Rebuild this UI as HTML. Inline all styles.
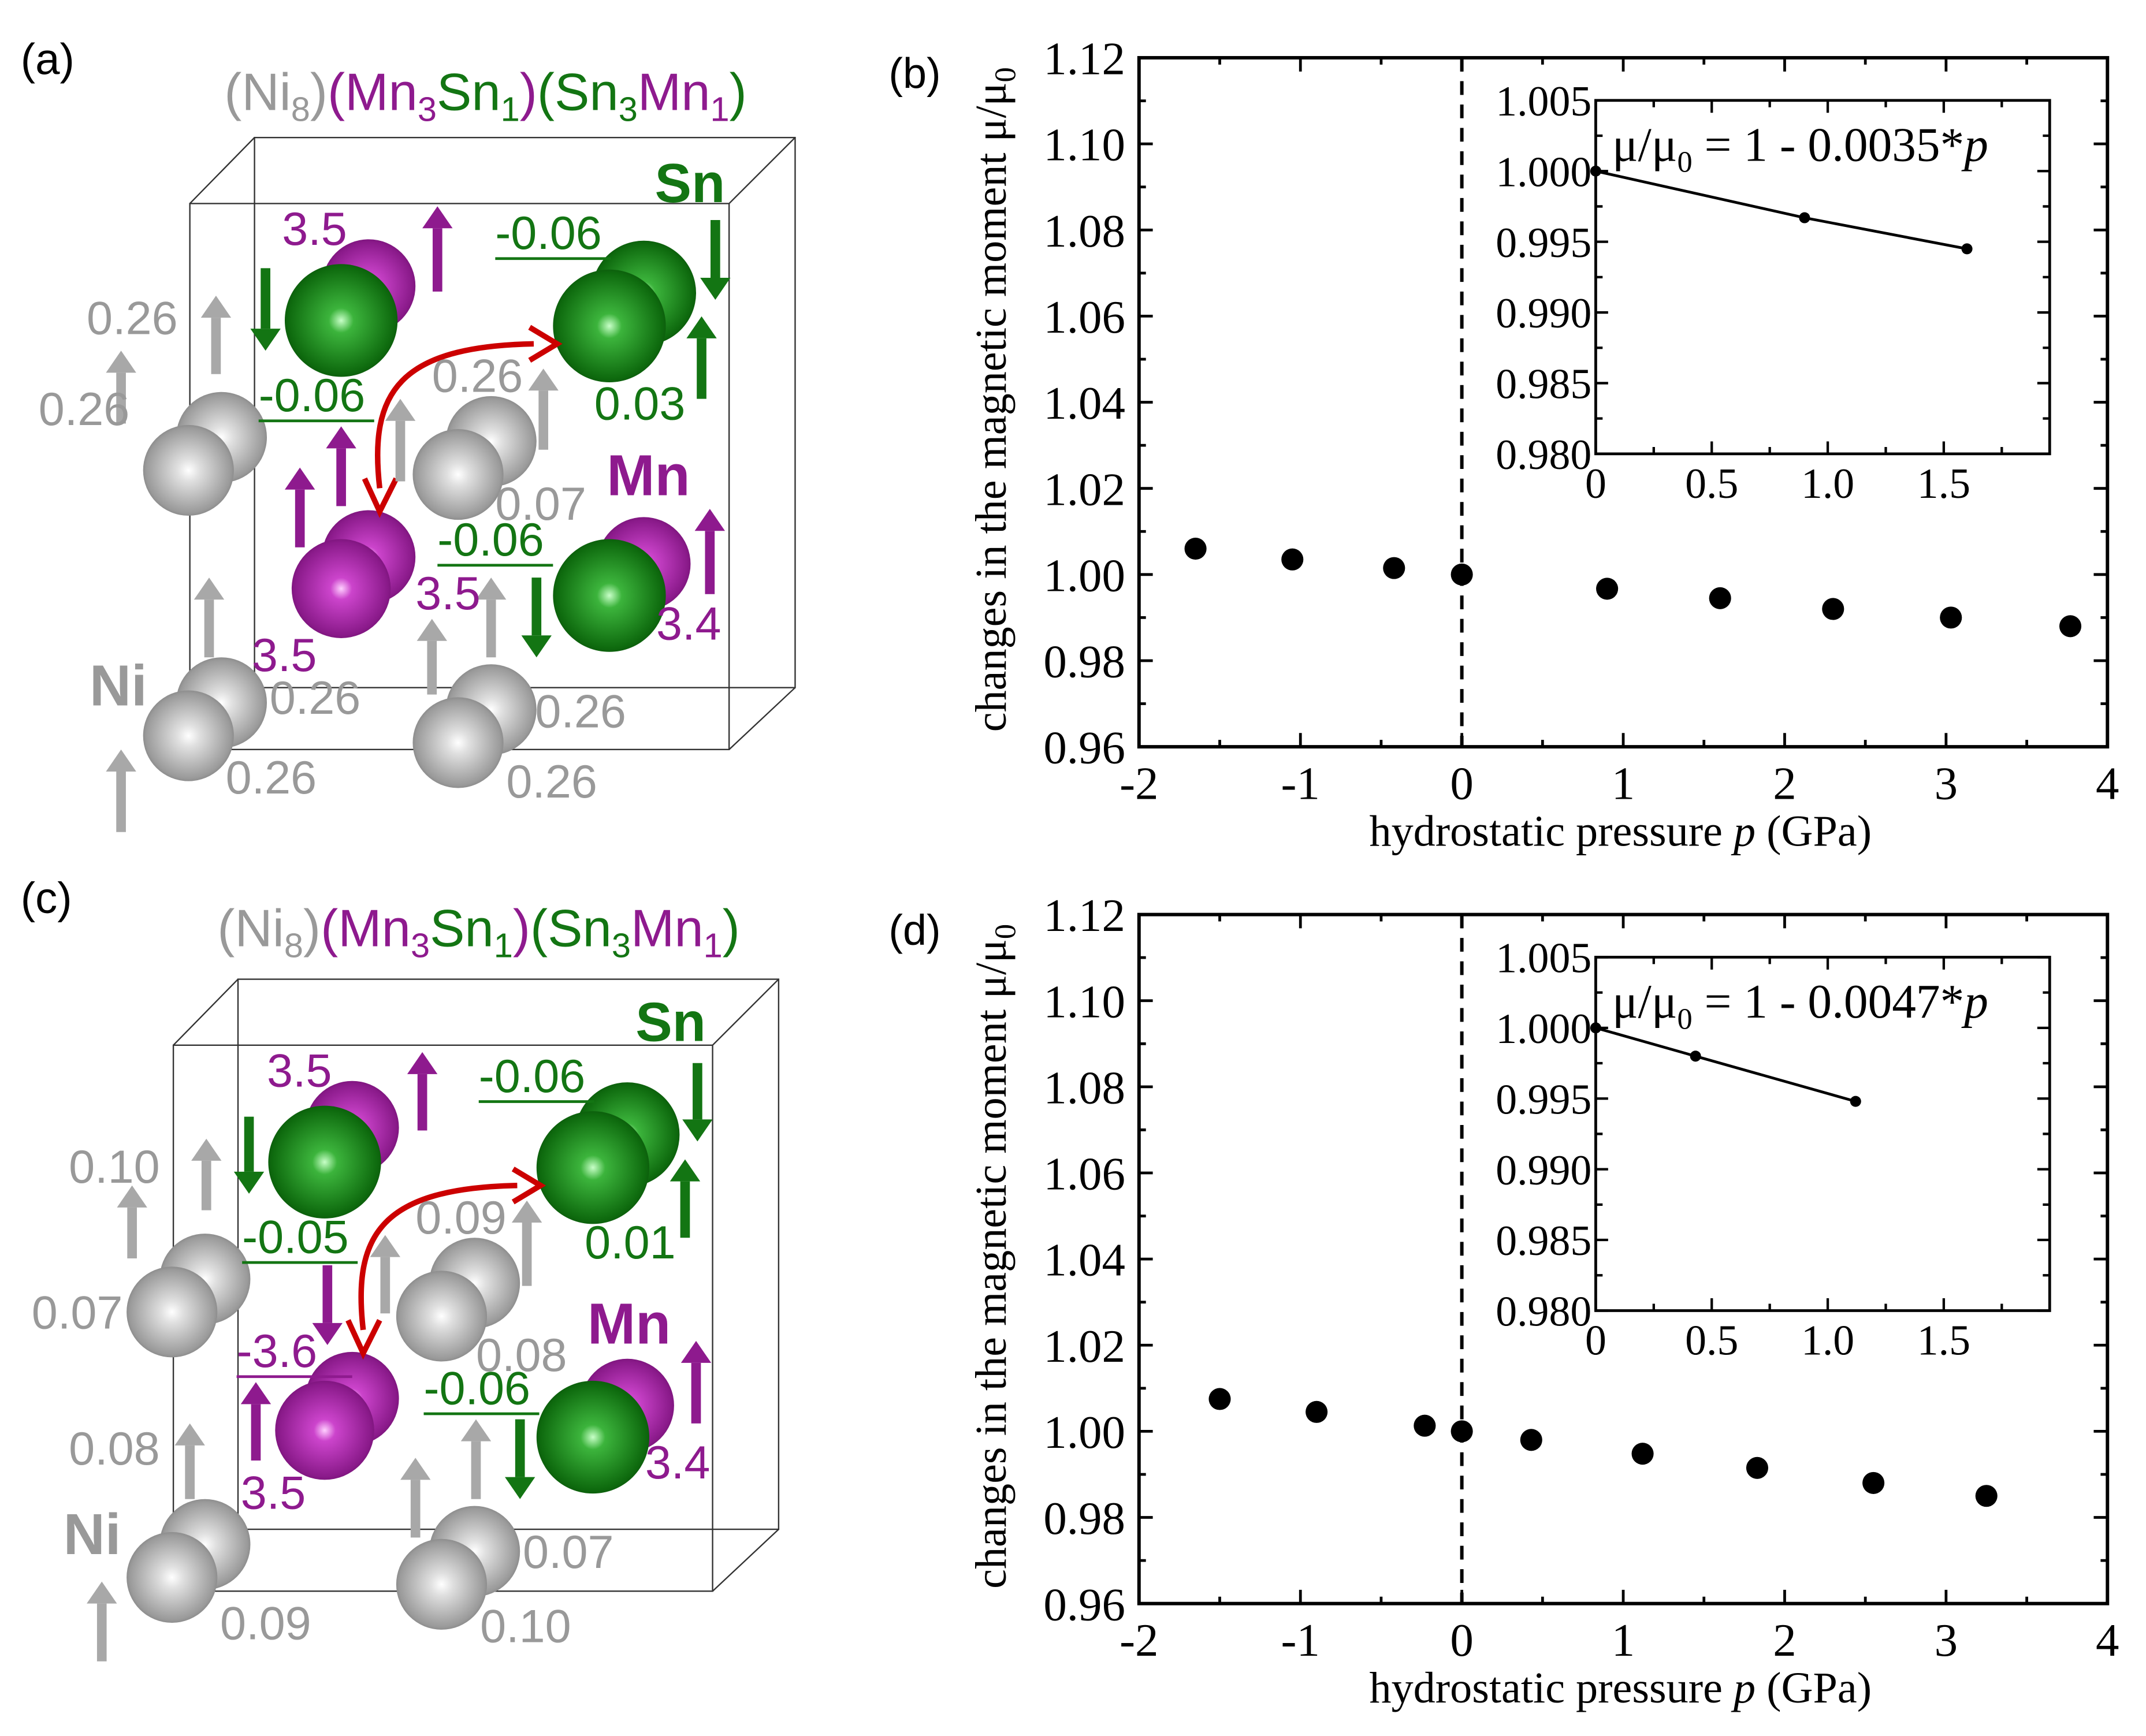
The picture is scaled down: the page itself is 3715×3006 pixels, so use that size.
<!DOCTYPE html>
<html><head><meta charset="utf-8"><style>html,body{margin:0;padding:0;background:#fff}svg{display:block}</style></head>
<body>
<svg id="root" xmlns="http://www.w3.org/2000/svg" width="3715" height="3006" viewBox="0 0 1560 1262.3">
<defs>
<radialGradient id="gNi" cx="0.5" cy="0.5" r="0.55"><stop offset="0" stop-color="#ffffff"/><stop offset="0.22" stop-color="#e0e0e0"/><stop offset="0.85" stop-color="#9a9a9a"/><stop offset="1" stop-color="#7a7a7a"/></radialGradient>
<radialGradient id="gSn" cx="0.5" cy="0.5" r="0.55"><stop offset="0" stop-color="#c8ffc8"/><stop offset="0.2" stop-color="#3cb43c"/><stop offset="0.85" stop-color="#0e6a0e"/><stop offset="1" stop-color="#0a500a"/></radialGradient>
<radialGradient id="gMn" cx="0.5" cy="0.5" r="0.55"><stop offset="0" stop-color="#ffd0ff"/><stop offset="0.2" stop-color="#cc44cc"/><stop offset="0.85" stop-color="#8a1a8a"/><stop offset="1" stop-color="#701070"/></radialGradient>
</defs>
</svg>
<script>
// ---------- chart data ----------
const pressB = [-1.65, -1.05, -0.42, 0, 0.9, 1.6, 2.3, 3.03, 3.77];
const momB = [1.006, 1.0035, 1.0015, 1.0, 0.9967, 0.9945, 0.992, 0.990, 0.988];
const insetPB = [0, 0.9, 1.6];
const insetMB = [1.0, 0.9967, 0.9945];
const pressD = [-1.5, -0.9, -0.23, 0, 0.43, 1.12, 1.83, 2.55, 3.25];
const momD = [1.0075, 1.0045, 1.0013, 1.0, 0.998, 0.9948, 0.9915, 0.988, 0.985];
const insetPD = [0, 0.43, 1.12];
const insetMD = [1.0, 0.998, 0.9948];
const xTicks = [-2, -1, 0, 1, 2, 3, 4];
const yTicks = [0.96, 0.98, 1.00, 1.02, 1.04, 1.06, 1.08, 1.10, 1.12];
const yTickLabels = ["0.96","0.98","1.00","1.02","1.04","1.06","1.08","1.10","1.12"];
const inXTicks = [0, 0.5, 1.0, 1.5];
const inXTickLabels = ["0","0.5","1.0","1.5"];
const inYTicks = [0.980, 0.985, 0.990, 0.995, 1.000, 1.005];
const inYTickLabels = ["0.980","0.985","0.990","0.995","1.000","1.005"];

const NS = "http://www.w3.org/2000/svg";
const root = document.getElementById('root');
function mk(tag, attrs, parent){const e=document.createElementNS(NS,tag);for(const k in attrs)e.setAttribute(k,attrs[k]);(parent||root).appendChild(e);return e;}
function txt(s, x, y, size, fill, parent, extra){const t=mk('text',Object.assign({x:x,y:y,'font-size':size,fill:fill,'font-family':'"Liberation Sans", sans-serif'},extra||{}),parent);t.textContent=s;return t;}

// ---------- plots ----------
function plot(top, P, M, IP, IM, formulaNum, tag){
  const g = mk('g',{});
  
  
  const L=828,R=1532,T=top,B=top+501;
  const xs = v => L + (v+2)/6*(R-L);
  const ys = v => B - (v-0.96)/0.16*(B-T);
  const serif = '"Liberation Serif", serif';
  for(let v=-2; v<=4.001; v+=0.5){
    const len = Math.abs(v-Math.round(v))<1e-6 ? 10 : 5;
    const tk = mk('path',{d:`M${xs(v)} ${B}v${-len}M${xs(v)} ${T}v${len}`,stroke:'#000','stroke-width':2},g);
    
    
  }
  for(let i=0;i<=16;i++){
    const v=0.96+i*0.01; const len = i%2===0?10:5;
    const tk = mk('path',{d:`M${L} ${ys(v)}h${len}M${R} ${ys(v)}h${-len}`,stroke:'#000','stroke-width':2},g);
    
    
  }
  const frame = mk('rect',{x:L,y:T,width:R-L,height:B-T,fill:'none',stroke:'#000','stroke-width':2.5},g);
  
  
  xTicks.forEach(v=>{
    const t = txt(String(v), xs(v), B+38, 34, '#000', g, {'text-anchor':'middle','font-family':serif});
    
    
  });
  yTicks.forEach((v,i)=>{
    const t = txt(yTickLabels[i], L-10, ys(v)+12, 34, '#000', g, {'text-anchor':'end','font-family':serif});
    
    
  });
  const xt = txt('', (L+R)/2-2, B+72, 32, '#000', g, {'text-anchor':'middle','font-family':serif});
  xt.innerHTML = 'hydrostatic pressure <tspan font-style="italic">p</tspan> (GPa)';
  
  
  const yt = txt('', 0, 0, 32, '#000', g, {'text-anchor':'middle','font-family':serif,transform:`translate(731 ${(T+B)/2-2}) rotate(-90)`});
  yt.innerHTML = 'changes in the magnetic moment μ/μ<tspan font-size="22" dy="7">0</tspan>';
  
  
  const zl = mk('line',{x1:xs(0),x2:xs(0),y1:T,y2:B,stroke:'#000','stroke-width':2.5,'stroke-dasharray':'10 7'},g);
  
  
  P.forEach((p,i)=>{
    const c = mk('circle',{cx:xs(p),cy:ys(M[i]),r:8,fill:'#000'},g);
    
    
  });
  // inset
  const iL=1160,iR=1490,iT=top+31,iB=top+288;
  const ixs = v => iL + v/1.5*253;
  const iys = v => iB - (v-0.98)/0.025*(iB-iT);
  const ig = mk('g',{},g);
  
  
  for(let v=0; v<=1.9; v+=0.25){
    const len = Math.abs(v*2-Math.round(v*2))<1e-6 ? 9 : 5;
    const tk = mk('path',{d:`M${ixs(v)} ${iB}v${-len}M${ixs(v)} ${iT}v${len}`,stroke:'#000','stroke-width':1.8},ig);
    
    
  }
  for(let i=0;i<=10;i++){
    const v=0.98+i*0.0025; const len=i%2===0?9:5;
    const tk = mk('path',{d:`M${iL} ${iys(v)}h${len}M${iR} ${iys(v)}h${-len}`,stroke:'#000','stroke-width':1.8},ig);
    
    
  }
  const ifr = mk('rect',{x:iL,y:iT,width:iR-iL,height:iB-iT,fill:'none',stroke:'#000','stroke-width':2},ig);
  
  
  inXTicks.forEach((v,i)=>{
    const t = txt(inXTickLabels[i], ixs(v), iB+32, 31, '#000', ig, {'text-anchor':'middle','font-family':serif});
    
    
  });
  inYTicks.forEach((v,i)=>{
    const t = txt(inYTickLabels[i], iL-3, iys(v)+11, 31, '#000', ig, {'text-anchor':'end','font-family':serif});
    
    
  });
  const ln = mk('polyline',{points:IP.map((p,i)=>ixs(p)+','+iys(IM[i])).join(' '),fill:'none',stroke:'#000','stroke-width':2},ig);
  
  
  IP.forEach((p,i)=>{
    const c = mk('circle',{cx:ixs(p),cy:iys(IM[i]),r:4,fill:'#000'},ig);
    
    
  });
  const f = txt('', 1172, iT+44, 35, '#000', ig, {'font-family':serif});
  f.innerHTML = 'μ/μ<tspan font-size="22" dy="8">0</tspan><tspan dy="-8"> = 1 - '+formulaNum+'*</tspan><tspan font-style="italic">p</tspan>';
  
  
  const lab = txt('('+tag+')', 646, top+22, 31, '#000', g);
  
  
}
plot(42, pressB, momB, insetPB, insetMB, '0.0035', 'b');
plot(665, pressD, momD, insetPD, insetMD, '0.0047', 'd');

// ---------- structure panels ----------
const GRAY='#a8a8a8', GREEN='#137513', MAG='#8e1a8e', GRAYT='#999999';
function arrow(x,y1,y2,col,parent){
  const dir = y2<y1?-1:1; const hl=16;
  const g = mk('g',{},parent);
  
  
  mk('line',{x1:x,x2:x,y1:y1,y2:y2-dir*hl,stroke:col,'stroke-width':7},g);
  mk('polygon',{points:`${x-11},${y2-dir*hl} ${x+11},${y2-dir*hl} ${x},${y2}`,fill:col},g);
}
function sphere(cx,cy,r,grad,parent){
  const c = mk('circle',{cx:cx,cy:cy,r:r,fill:`url(#${grad})`},parent);
  
  
}
function structure(dx,dy,tag){
  const g = mk('g',{transform:`translate(${dx} ${dy})`});
  
  
  const box = mk('path',{d:'M138 148H530V545H138ZM185 100H578V500H185ZM138 148L185 100M530 148L578 100M530 545L578 500M138 545L185 500',fill:'none',stroke:'#333','stroke-width':1},g);
  
  
  [[137,342],[333,345],[137,535],[333,540]].forEach(([x,y])=>{sphere(x+24,y-24,33,'gNi',g);sphere(x,y,33,'gNi',g);});
  sphere(268,208,34,'gMn',g); sphere(248,233,41,'gSn',g);
  sphere(468,213,38,'gSn',g); sphere(443,237,41,'gSn',g);
  sphere(268,405,34,'gMn',g); sphere(248,428,36,'gMn',g);
  sphere(468,410,34,'gMn',g); sphere(443,433,41,'gSn',g);
  const ra = mk('g',{},g);
  
  
  mk('path',{d:'M276 355C268 285 290 252 388 250',fill:'none',stroke:'#cc0000','stroke-width':4},ra);
  mk('path',{d:'M265 348L276 372L288 348M385 238L405 250L385 262',fill:'none',stroke:'#cc0000','stroke-width':4},ra);
  return g;
}
function label(s,x,y,col,size,bold,under,name){
  const t = txt(s,x,y,size||34,col,root,bold?{'font-weight':'bold'}:{});
  
  
  if(under){ const u=mk('line',{x1:x,x2:x+84,y1:y+7,y2:y+7,stroke:col,'stroke-width':2});   }
}
function title(y,x){
  const t = txt('',x,y,38,GRAYT);
  t.innerHTML = '(Ni<tspan font-size="25" dy="8">8</tspan><tspan dy="-8">)</tspan><tspan fill="'+MAG+'">(Mn<tspan font-size="25" dy="8">3</tspan><tspan dy="-8" fill="'+GREEN+'">Sn<tspan font-size="25" dy="8">1</tspan></tspan><tspan dy="-8">)</tspan></tspan><tspan fill="'+GREEN+'">(Sn<tspan font-size="25" dy="8">3</tspan><tspan dy="-8" fill="'+MAG+'">Mn<tspan font-size="25" dy="8">1</tspan></tspan><tspan dy="-8">)</tspan></tspan>';
  
  
}
// panel (a)
structure(0,0,'a');
label('(a)',15,54,'#000',32,false,false,'panel-label-a');
title(80,163);
label('Sn',476,147,GREEN,40,true,false,'sn-label');
label('Mn',441,360,MAG,42,true,false,'mn-label');
label('Ni',65,513,GRAYT,42,true,false,'ni-label');
arrow(318,212,150,MAG); arrow(193,195,255,GREEN); arrow(157,272,215,GRAY); arrow(88,308,255,GRAY);
arrow(520,160,218,GREEN); arrow(510,290,230,GREEN);
arrow(248,368,310,MAG); arrow(218,398,340,MAG); arrow(291,350,290,GRAY); arrow(395,327,268,GRAY);
arrow(390,420,478,GREEN); arrow(516,432,370,MAG);
arrow(152,478,420,GRAY); arrow(314,505,450,GRAY); arrow(357,478,420,GRAY); arrow(88,605,545,GRAY);
label('3.5',205,178,MAG); label('0.26',63,243,GRAYT); label('0.26',28,309,GRAYT);
label('-0.06',360,181,GREEN,34,false,true); label('0.03',432,305,GREEN);
label('-0.06',188,299,GREEN,34,false,true); label('0.26',314,285,GRAYT);
label('0.07',360,378,GRAYT); label('-0.06',318,404,GREEN,34,false,true);
label('3.5',302,443,MAG); label('3.4',477,465,MAG);
label('3.5',183,488,MAG); label('0.26',196,519,GRAYT); label('0.26',389,529,GRAYT);
label('0.26',164,577,GRAYT); label('0.26',368,580,GRAYT);
// panel (c)
structure(-12,612,'c');
label('(c)',15,664,'#000',32,false,false,'panel-label-c');
title(688,158);
label('Sn',462,757,GREEN,40,true,false,'sn-label');
label('Mn',427,977,MAG,42,true,false,'mn-label');
label('Ni',46,1130,GRAYT,42,true,false,'ni-label');
arrow(307,822,765,MAG); arrow(181,812,868,GREEN); arrow(150,880,828,GRAY); arrow(96,915,862,GRAY);
arrow(507,773,830,GREEN); arrow(498,900,843,GREEN);
arrow(238,920,978,MAG); arrow(186,1062,1005,MAG); arrow(280,955,898,GRAY); arrow(383,935,873,GRAY);
arrow(378,1032,1090,GREEN); arrow(506,1035,975,MAG);
arrow(138,1090,1035,GRAY); arrow(302,1118,1060,GRAY); arrow(346,1090,1032,GRAY); arrow(74,1208,1150,GRAY);
label('3.5',194,790,MAG); label('0.10',50,860,GRAYT); label('0.07',23,966,GRAYT);
label('-0.06',348,794,GREEN,34,false,true); label('0.01',425,915,GREEN);
label('-0.05',176,911,GREEN,34,false,true); label('0.09',302,897,GRAYT);
label('-3.6',172,994,MAG,34,false,true);
label('0.08',346,997,GRAYT); label('-0.06',308,1021,GREEN,34,false,true);
label('3.4',469,1075,MAG); label('0.08',50,1065,GRAYT); label('3.5',175,1097,MAG);
label('0.07',380,1140,GRAYT); label('0.09',160,1192,GRAYT); label('0.10',349,1194,GRAYT);
</script>
</body></html>
